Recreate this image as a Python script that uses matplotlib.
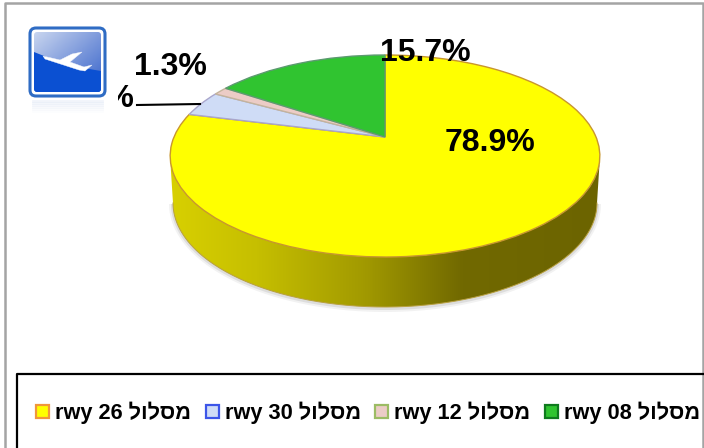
import numpy as np
import matplotlib
matplotlib.use('Agg')
import matplotlib.pyplot as plt
from matplotlib.colors import LinearSegmentedColormap
from matplotlib.patches import FancyBboxPatch, Patch, PathPatch, Polygon, Rectangle
from matplotlib.path import Path

plt.rcParams['font.family'] = ['Liberation Sans', 'DejaVu Sans']

# data, clockwise from 12 o'clock
runways = ['26', '30', '12', '08']
shares = [78.9, 4.1, 1.3, 15.7]
share_labels = ['78.9%', '4.1%', '1.3%', '15.7%']
hebrew_word = 'מסלול'
face_colors = ['#ffff00', '#cfdcf6', '#ecccc6', '#30c430']
edge_colors = ['#c8962e', '#a9a6cc', '#c4b49c', '#5c9a70']
legend_edges = ['#f0963c', '#3c55e8', '#9cbc64', '#0f7a1e']

fig = plt.figure(figsize=(7.04, 4.48), dpi=100)
ax = fig.add_axes([0, 0, 1, 1])

# plain pie on the unit disc first, then tilt it with a perspective map
wedges, _ = ax.pie(shares, colors=face_colors, startangle=90, counterclock=False, radius=1)

cx, cy = 385, 156
half_h = 101
apex_up = 19
half_w = 211
tilt = apex_up * 2 / (half_h * 2)


def tilted(verts):
    u, v = verts[:, 0], verts[:, 1]
    w = 1 + tilt * v
    return np.column_stack([cx + half_w * u / w, cy - (apex_up + half_h * v) / w])


pie_paths = []
for wedge in wedges:
    p = wedge.get_path()
    pie_paths.append(Path(tilted(p.vertices), p.codes))
    wedge.remove()

# soft shadow + side wall of the disc
t = np.linspace(0, np.pi, 200)
rim_x = cx + 215 * np.cos(t)
rim_y = cy + 101 * np.sin(t)
low_x = cx + 212 * np.cos(t[::-1])
low_y = 203 + 104 * np.sin(t[::-1])
wall = Polygon(np.column_stack([np.r_[rim_x, low_x], np.r_[rim_y, low_y]]), closed=True,
               facecolor='none', edgecolor='none')
ax.add_patch(wall)
for grow, a in [(4, 0.10), (2, 0.18)]:
    ax.fill(cx + (212 + grow) * np.cos(t), 204 + (104 + grow) * np.sin(t), color='#808080', alpha=a, lw=0, zorder=1)

wall_cmap = LinearSegmentedColormap.from_list('wall', [(0, '#d8d000'), (0.2, '#c6bf00'), (0.45, '#a29a00'),
                                                       (0.68, '#716900'), (1, '#6c6400')])
grad = ax.imshow(np.linspace(0, 1, 256).reshape(1, -1), cmap=wall_cmap, extent=[170, 600, 310, 150],
                 aspect='auto', zorder=2)
grad.set_clip_path(wall)
ax.plot(low_x, low_y, color='#b8a040', lw=0.7, zorder=2)

for path, fc, ec in zip(pie_paths, face_colors, edge_colors):
    ax.add_patch(PathPatch(path, facecolor=fc, edgecolor=ec, lw=1.0, zorder=3))

# value labels
label_style = dict(fontsize=23, fontweight='bold', color='black', va='center', zorder=5)
ax.text(490, 143, share_labels[0], ha='center', **label_style)
ax.text(134, 99, share_labels[1], ha='right', **label_style)
ax.text(170, 67, share_labels[2], ha='center', **label_style)
ax.text(425, 53, share_labels[3], ha='center', **label_style)
ax.plot([137, 200], [105, 104], color='black', lw=1.5, zorder=4)

# icon sits on a white box that hides most of the 4.1% label
ax.add_patch(Rectangle((17, 12), 101, 103, facecolor='white', edgecolor='none', zorder=6))
ax.add_patch(FancyBboxPatch((32, 30), 71, 64, boxstyle='round,pad=2,rounding_size=6', facecolor='white',
                            edgecolor='#2f6cc4', lw=2.2, zorder=7))
inner = FancyBboxPatch((34, 32), 67, 60, boxstyle='round,pad=0,rounding_size=3', facecolor='none',
                       edgecolor='none', zorder=7)
ax.add_patch(inner)
sky_cmap = LinearSegmentedColormap.from_list('sky', ['#c8d5ef', '#7f9bdc', '#3562ca'])
xx, yy = np.meshgrid(np.linspace(0, 1, 64), np.linspace(0, 1, 64))
sky = ax.imshow((xx + yy) / 2, cmap=sky_cmap, extent=[34, 101, 92, 32], aspect='auto', zorder=7.1)
sky.set_clip_path(inner)
wave_x = np.linspace(34, 101, 40)
wave_y = 52 + 19 * (wave_x - 34) / 67 + 2.5 * np.sin((wave_x - 34) / 67 * np.pi)
sea = ax.fill(np.r_[wave_x, 101, 34], np.r_[wave_y, 92, 92], color='#0b50d2', lw=0, zorder=7.2)[0]
sea.set_clip_path(inner)
plane = [(43, 56), (60, 60), (72, 54), (82, 52), (70, 62), (84, 67), (92, 65), (85, 71), (79, 70), (45, 59)]
ax.add_patch(Polygon(plane, closed=True, facecolor='white', edgecolor='#f4f6fc', lw=0.3, zorder=7.3))
for k, y0 in enumerate(range(101, 113, 2)):
    ax.plot([33, 102], [y0, y0], color='#dde5f4', alpha=0.4 - 0.065 * k, lw=2, zorder=7)

# chart border and legend box
ax.plot([5, 5, 703, 703], [448, 3, 3, 448], color='#a4a4a4', lw=1.8, zorder=8)
ax.plot([17, 17, 703], [448, 374, 374], color='black', lw=1.6, zorder=8)

handles = [Patch(facecolor=fc, edgecolor=ec, lw=1.6) for fc, ec in zip(face_colors, legend_edges)]
labels = [f'rwy {r} {hebrew_word[::-1]}' for r in runways]
ax.legend(handles, labels, loc='center', bbox_to_anchor=(368, 413), bbox_transform=ax.transData, ncols=4,
          frameon=False, handlelength=0.6, handleheight=0.6, handletextpad=0.27, columnspacing=0.66,
          borderpad=0, prop={'family': 'Liberation Sans', 'weight': 'bold', 'size': 15.7})

ax.set_xlim(0, 704)
ax.set_ylim(448, 0)
ax.axis('off')

fig.savefig('out.png', dpi=100, facecolor='white')
